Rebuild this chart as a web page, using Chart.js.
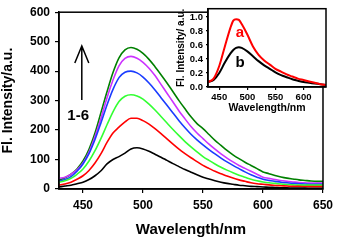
<!DOCTYPE html>
<html>
<head>
<meta charset="utf-8">
<script src="https://cdn.jsdelivr.net/npm/chart.js@4"></script>
<style>
  body { margin: 0; background: #fff; }
  #wrap { position: relative; width: 338px; height: 240px; }
  #main { position: absolute; left: 0; top: 0; }
  #inset { position: absolute; left: 170px; top: 0; }
</style>
</head>
<body>
<div id="wrap">
  <canvas id="main" width="338" height="240"></canvas>
  <canvas id="inset" width="160" height="120"></canvas>
</div>
<script>
// wavelengths (nm), every 5 nm
const wavelengths = [430,435,440,445,450,455,460,465,470,475,480,485,490,495,500,505,510,515,520,525,530,535,540,545,550,555,560,565,570,575,580,585,590,595,600,605,610,615,620,625,630,635,640,645,650];

// main spectra, curves 1-6 (bottom to top)
const curve1 = [7,10,13,18,23,32,45,62,85,100,110,122,136,140,136,128,118,108,97,86,76,66,57,48,40,34,28,23,19,16,13,11,9,8,7,6,5,4,4,3,3,3,2,2,2];
const curve2 = [13,17,23,33,45,63,88,120,158,190,210,228,240,240,232,220,205,188,170,152,135,120,106,93,80,70,60,52,44,37,31,26,21,18,16,14,12,11,10,9,9,8,8,8,8];
const curve3 = [23,28,36,50,68,95,130,172,218,262,297,315,320,316,305,288,268,246,224,202,181,161,143,126,110,97,85,74,64,55,47,40,33,28,24,21,19,17,15,14,13,13,13,13,13];
const curve4 = [26,32,42,60,85,120,168,225,285,338,378,396,400,394,380,360,336,310,284,258,232,208,186,167,150,134,119,105,92,80,69,58,48,40,33,29,26,23,21,19,18,17,16,16,16];
const curve5 = [36,40,50,65,88,125,178,240,310,370,418,443,450,444,430,410,385,355,325,295,265,238,212,190,171,152,135,119,105,92,80,70,60,50,40,36,32,29,26,24,22,21,20,20,20];
const curve6 = [30,38,50,68,95,135,190,260,330,395,445,472,480,474,460,440,415,388,360,330,300,272,245,222,205,185,165,148,131,116,103,91,80,69,58,52,46,41,37,34,31,29,27,26,26];
const curveColors = ['#000000', '#ff0000', '#33ff33', '#1a3cff', '#cc33ff', '#008000'];

const mainXTicks = [450, 500, 550, 600, 650];
const mainYTicks = [0, 100, 200, 300, 400, 500, 600];

// inset spectra, every 10 nm
const insetWavelengths = [430,440,450,460,470,475,480,485,490,500,510,520,530,540,550,560,570,580,590,600,610,620,630,640];
const insetA = [0.07,0.12,0.30,0.58,0.85,0.95,0.97,0.96,0.90,0.75,0.58,0.46,0.38,0.32,0.26,0.22,0.18,0.15,0.12,0.10,0.08,0.06,0.04,0.03];
const insetB = [0.07,0.10,0.20,0.35,0.48,0.53,0.56,0.57,0.56,0.51,0.44,0.37,0.31,0.26,0.21,0.17,0.14,0.11,0.09,0.07,0.06,0.05,0.04,0.03];
const insetXTicks = [450, 500, 550, 600];
const insetYTicks = [0, 0.2, 0.4, 0.6, 0.8, 1.0];

// annotation anchors, in data units
const arrowAt = { x: 449, from: 302, to: 485 };
const arrowLabel = { x: 446, y: 249, text: '1-6' };
const insetLabels = [{ x: 487, y: 0.78, text: 'a', color: '#ff0000' }, { x: 487, y: 0.34, text: 'b', color: '#000000' }];

const FONT = 'Arial, "Liberation Sans", sans-serif';

function pts(xs, ys) {
  return xs.map((x, i) => ({ x: x, y: ys[i] }));
}

// frame around the plot area (+ white fill for the inset)
const framePlugin = {
  id: 'frame',
  beforeDraw(chart, args, opts) {
    if (opts.fill) {
      const a = chart.chartArea;
      chart.ctx.save();
      chart.ctx.fillStyle = opts.fill;
      chart.ctx.fillRect(a.left, a.top, a.right - a.left, a.bottom - a.top);
      chart.ctx.restore();
    }
  },
  afterDraw(chart, args, opts) {
    const a = chart.chartArea;
    const ctx = chart.ctx;
    ctx.save();
    ctx.strokeStyle = '#000';
    ctx.lineWidth = opts.width || 1.5;
    ctx.strokeRect(a.left, a.top, a.right - a.left, a.bottom - a.top);
    ctx.restore();
  }
};

const notesPlugin = {
  id: 'notes',
  afterDatasetsDraw(chart, args, opts) {
    const ctx = chart.ctx;
    const xs = chart.scales.x, ys = chart.scales.y;
    ctx.save();
    if (opts.arrow) {
      const x = xs.getPixelForValue(opts.arrow.x);
      const y0 = ys.getPixelForValue(opts.arrow.from);
      const y1 = ys.getPixelForValue(opts.arrow.to);
      ctx.strokeStyle = '#000';
      ctx.lineWidth = 1.5;
      ctx.beginPath();
      ctx.moveTo(x, y0);
      ctx.lineTo(x, y1);
      ctx.moveTo(x - 7, y1 + 17);
      ctx.lineTo(x, y1);
      ctx.lineTo(x + 7, y1 + 17);
      ctx.stroke();
    }
    (opts.labels || []).forEach(l => {
      ctx.fillStyle = l.color || '#000';
      ctx.font = 'bold ' + opts.size + 'px ' + FONT;
      ctx.textAlign = 'center';
      ctx.textBaseline = 'middle';
      ctx.fillText(l.text, xs.getPixelForValue(l.x), ys.getPixelForValue(l.y));
    });
    ctx.restore();
  }
};

function axis(o) {
  return {
    type: 'linear',
    min: o.min, max: o.max,
    afterBuildTicks: s => { s.ticks = o.ticks.map(v => ({ value: v })); },
    afterFit: s => { if (o.width) s.width = o.width; if (o.height) s.height = o.height; },
    grid: { display: true, drawOnChartArea: false, drawTicks: true, tickLength: o.tickLen, color: '#000', lineWidth: 1.2 },
    border: { display: true, color: '#000', width: 1.5 },
    ticks: {
      color: '#000', padding: o.tickPad, maxRotation: 0, autoSkip: false,
      font: { family: FONT, size: o.tickSize, weight: 'bold' },
      callback: o.fmt || (v => v)
    },
    title: {
      display: true, text: o.title, color: '#000',
      padding: o.titlePad,
      font: { family: FONT, size: o.titleSize, weight: 'bold' }
    }
  };
}

const mainSeries = [curve1, curve2, curve3, curve4, curve5, curve6];

new Chart(document.getElementById('main'), {
  type: 'line',
  data: {
    datasets: mainSeries.map((s, i) => ({
      data: pts(wavelengths, s),
      borderColor: curveColors[i],
      borderWidth: 1.6,
      pointRadius: 0,
      tension: 0.4,
      cubicInterpolationMode: 'monotone',
      fill: false
    }))
  },
  options: {
    responsive: false,
    animation: false,
    layout: { padding: { top: 6, right: 11, left: 0, bottom: 0 } },
    plugins: {
      legend: { display: false },
      tooltip: { enabled: false },
      frame: { width: 1.5 },
      notes: { arrow: arrowAt, labels: [arrowLabel], size: 15 }
    },
    scales: {
      x: axis({ min: 430, max: 650, ticks: mainXTicks, height: 51, tickLen: 4, tickPad: 5, tickSize: 12,
                title: 'Wavelength/nm', titleSize: 15, titlePad: { top: 0, bottom: 1 } }),
      y: axis({ min: 0, max: 600, ticks: mainYTicks, width: 59, tickLen: 4, tickPad: 5, tickSize: 12,
                title: 'Fl. Intensity/a.u.', titleSize: 14, titlePad: { top: 0, bottom: 0 } })
    }
  },
  plugins: [framePlugin, notesPlugin]
});

new Chart(document.getElementById('inset'), {
  type: 'line',
  data: {
    datasets: [
      { data: pts(insetWavelengths, insetA), borderColor: '#ff0000' },
      { data: pts(insetWavelengths, insetB), borderColor: '#000000' }
    ].map(d => Object.assign(d, { borderWidth: 2, pointRadius: 0, tension: 0.4, cubicInterpolationMode: 'monotone', fill: false }))
  },
  options: {
    responsive: false,
    animation: false,
    layout: { padding: { top: 5, right: 4, left: 0, bottom: 0 } },
    plugins: {
      legend: { display: false },
      tooltip: { enabled: false },
      frame: { width: 1.5, fill: '#ffffff' },
      notes: { labels: insetLabels, size: 15 }
    },
    scales: {
      x: axis({ min: 430, max: 640, ticks: insetXTicks, height: 33, tickLen: 3, tickPad: 2, tickSize: 9.5,
                title: 'Wavelength/nm', titleSize: 10.5, titlePad: { top: 0, bottom: 6 } }),
      y: axis({ min: 0, max: 1.12, ticks: insetYTicks, width: 38, tickLen: 2, tickPad: 3, tickSize: 9.5,
                title: 'Fl. Intensity/ a.u.', titleSize: 10, titlePad: { top: 5, bottom: 0 },
                fmt: v => v.toFixed(1) })
    }
  },
  plugins: [framePlugin, notesPlugin]
});
</script>
</body>
</html>
